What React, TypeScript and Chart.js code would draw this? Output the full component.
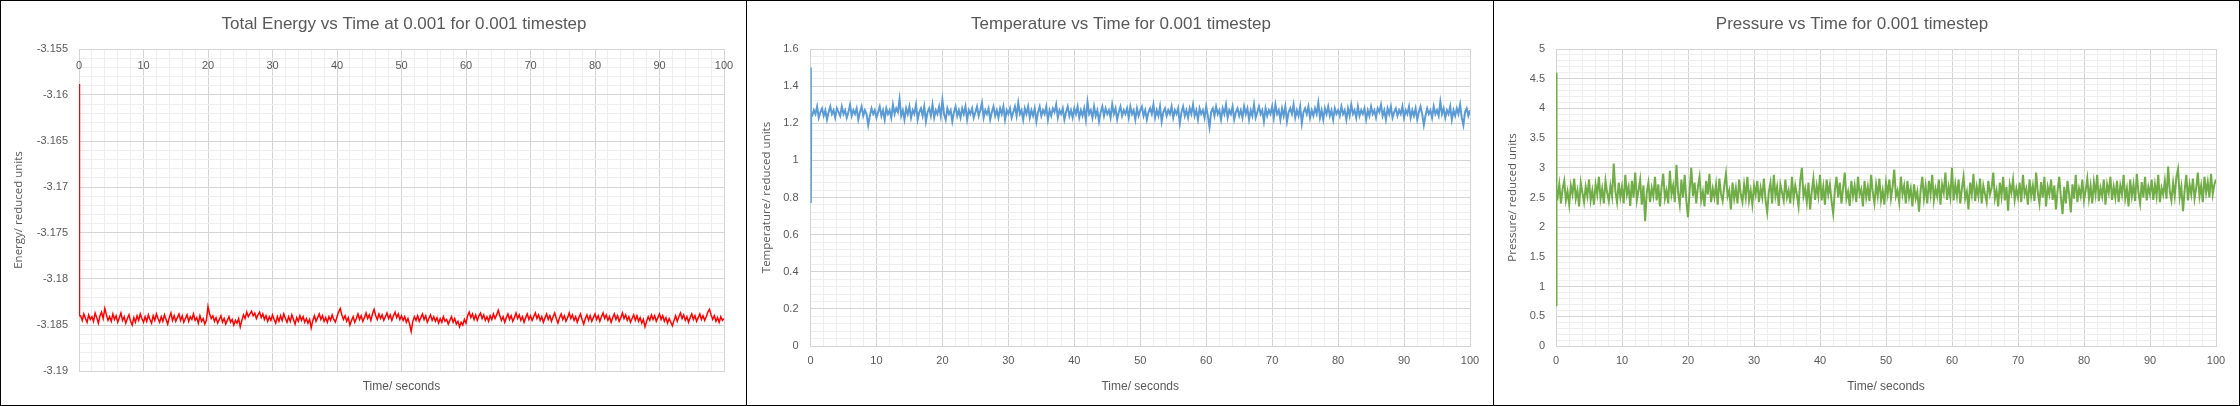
import { useEffect, useRef } from "react";
import { Chart, registerables } from "chart.js";

Chart.register(...registerables);

Chart.defaults.font.family = "'Liberation Sans', Arial, sans-serif";

// Sample times: the start-up transient, then one sample every 0.25 s
const time = [0, 0.05, 0.1, ...Array.from({ length: 400 }, (_, i) => (i + 1) * 0.25)];

const timeTicks = [0, 10, 20, 30, 40, 50, 60, 70, 80, 90, 100];
const timeTickLabels = ["0", "10", "20", "30", "40", "50", "60", "70", "80", "90", "100"];

// one row = 5 s
const energy = [
  -3.1588, -3.176, -3.184,
  -3.184, -3.1845, -3.1838, -3.1843, -3.1847, -3.1839, -3.1844, -3.1841, -3.1846, -3.1837, -3.1842, -3.1848, -3.184, -3.1836, -3.1843, -3.1832, -3.1839, -3.1845, -3.1841, -3.1846,
  -3.1838, -3.1844, -3.184, -3.1847, -3.1842, -3.1837, -3.1845, -3.1841, -3.1848, -3.1843, -3.1839, -3.1846, -3.185, -3.1842, -3.1847, -3.184, -3.1845, -3.1838, -3.1843, -3.1847,
  -3.1841, -3.1846, -3.1839, -3.1844, -3.1848, -3.184, -3.1845, -3.1838, -3.1843, -3.1847, -3.1841, -3.1846, -3.1839, -3.1844, -3.1849, -3.1842, -3.1837, -3.1845, -3.184, -3.1846,
  -3.1842, -3.1838, -3.1845, -3.184, -3.1847, -3.1843, -3.1839, -3.1846, -3.1841, -3.1844, -3.1838, -3.1845, -3.1842, -3.1848, -3.184, -3.1846, -3.1843, -3.1849, -3.1845, -3.183,
  -3.1838, -3.1843, -3.184, -3.1846, -3.1842, -3.1848, -3.1844, -3.184, -3.1847, -3.1843, -3.1849, -3.1845, -3.1841, -3.1847, -3.1844, -3.185, -3.1845, -3.1848, -3.1843, -3.1852,
  -3.1845, -3.1839, -3.1843, -3.1836, -3.1841, -3.1838, -3.1835, -3.184, -3.1837, -3.1843, -3.1839, -3.1836, -3.1842, -3.1838, -3.1844, -3.184, -3.1846, -3.1841, -3.1845, -3.1839,
  -3.1844, -3.1848, -3.1841, -3.1846, -3.184, -3.1845, -3.1838, -3.1843, -3.1847, -3.1841, -3.1846, -3.1839, -3.1844, -3.1849, -3.1842, -3.1846, -3.184, -3.1845, -3.1841, -3.1847,
  -3.1843, -3.1848, -3.1844, -3.1853, -3.1845, -3.184, -3.1846, -3.1842, -3.1838, -3.1844, -3.184, -3.1846, -3.1842, -3.1847, -3.1841, -3.1845, -3.1839, -3.1844, -3.1847, -3.1841,
  -3.1836, -3.1832, -3.1839, -3.1844, -3.184, -3.1846, -3.1842, -3.185, -3.1845, -3.1841, -3.1847, -3.1843, -3.1838, -3.1844, -3.184, -3.1846, -3.1842, -3.1837, -3.1843, -3.1839,
  -3.1845, -3.1838, -3.1833, -3.184, -3.1844, -3.1838, -3.1843, -3.1839, -3.1845, -3.1841, -3.1837, -3.1843, -3.1839, -3.1845, -3.184, -3.1836, -3.1842, -3.1838, -3.1844, -3.184,
  -3.1845, -3.1841, -3.1847, -3.1843, -3.1849, -3.1857, -3.1846, -3.1841, -3.1845, -3.184, -3.1846, -3.1842, -3.1838, -3.1844, -3.184, -3.1847, -3.1843, -3.1839, -3.1845, -3.1841,
  -3.1846, -3.1842, -3.1848, -3.1843, -3.1847, -3.1841, -3.1846, -3.1844, -3.1849, -3.1845, -3.1841, -3.1847, -3.1843, -3.1849, -3.1846, -3.1852, -3.1847, -3.185, -3.1844, -3.1848,
  -3.184, -3.1836, -3.1842, -3.1838, -3.1844, -3.1839, -3.1845, -3.184, -3.1837, -3.1843, -3.1839, -3.1845, -3.1841, -3.1846, -3.184, -3.1844, -3.1838, -3.1843, -3.1839, -3.1834,
  -3.184, -3.1845, -3.1841, -3.1847, -3.1842, -3.1838, -3.1844, -3.184, -3.1846, -3.1842, -3.1837, -3.1843, -3.1839, -3.1845, -3.1841, -3.1847, -3.1842, -3.1838, -3.1844, -3.184,
  -3.1845, -3.1841, -3.1837, -3.1843, -3.1839, -3.1845, -3.1841, -3.1847, -3.1842, -3.1838, -3.1844, -3.184, -3.1846, -3.1841, -3.1837, -3.1843, -3.1848, -3.1842, -3.1838, -3.1844,
  -3.184, -3.1846, -3.1842, -3.1837, -3.1843, -3.1839, -3.1845, -3.1841, -3.1847, -3.1842, -3.1838, -3.1844, -3.1849, -3.1843, -3.1839, -3.1845, -3.184, -3.1846, -3.1842, -3.1838,
  -3.1844, -3.184, -3.1846, -3.1841, -3.1837, -3.1843, -3.1839, -3.1845, -3.1841, -3.1847, -3.1842, -3.1838, -3.1844, -3.184, -3.1846, -3.1842, -3.1837, -3.1843, -3.1839, -3.1845,
  -3.1841, -3.1847, -3.1843, -3.1839, -3.1845, -3.184, -3.1846, -3.1842, -3.1848, -3.1844, -3.1852, -3.1846, -3.1841, -3.1845, -3.1839, -3.1844, -3.184, -3.1846, -3.1842, -3.1838,
  -3.1844, -3.184, -3.1846, -3.1842, -3.1848, -3.1843, -3.1847, -3.1851, -3.1845, -3.184, -3.1846, -3.1841, -3.1837, -3.1843, -3.1839, -3.1845, -3.1841, -3.1847, -3.1842, -3.1838,
  -3.1844, -3.184, -3.1846, -3.1842, -3.1838, -3.1844, -3.184, -3.1845, -3.1841, -3.1836, -3.1833, -3.1839, -3.1844, -3.184, -3.1846, -3.1842, -3.1847, -3.1841, -3.1845, -3.1843,
];

const energyTicks = [-3.155, -3.16, -3.165, -3.17, -3.175, -3.18, -3.185, -3.19];
const energyTickLabels = ["-3.155", "-3.16", "-3.165", "-3.17", "-3.175", "-3.18", "-3.185", "-3.19"];

const temperature = [
  1.5, 0.77, 1.24,
  1.24, 1.27, 1.25, 1.29, 1.23, 1.26, 1.28, 1.24, 1.27, 1.22, 1.26, 1.29, 1.25, 1.27, 1.23, 1.28, 1.26, 1.24, 1.29, 1.25,
  1.27, 1.23, 1.26, 1.3, 1.24, 1.27, 1.25, 1.28, 1.22, 1.26, 1.29, 1.24, 1.27, 1.25, 1.19, 1.24, 1.28, 1.25, 1.27, 1.23,
  1.26, 1.29, 1.24, 1.27, 1.22, 1.28, 1.25, 1.27, 1.23, 1.3, 1.25, 1.28, 1.26, 1.33, 1.24, 1.27, 1.22, 1.28, 1.25, 1.29,
  1.23, 1.27, 1.25, 1.3, 1.22, 1.26, 1.28, 1.24, 1.29, 1.21, 1.26, 1.28, 1.24, 1.3, 1.23, 1.27, 1.25, 1.29, 1.24, 1.325,
  1.25, 1.22, 1.28, 1.25, 1.27, 1.21, 1.26, 1.29, 1.24, 1.27, 1.23, 1.28, 1.25, 1.29, 1.22, 1.27, 1.25, 1.28, 1.23, 1.26,
  1.29, 1.24, 1.27, 1.31, 1.23, 1.27, 1.25, 1.28, 1.22, 1.26, 1.29, 1.24, 1.27, 1.23, 1.28, 1.25, 1.29, 1.22, 1.27, 1.25,
  1.28, 1.23, 1.26, 1.29, 1.24, 1.31, 1.25, 1.27, 1.22, 1.28, 1.25, 1.29, 1.23, 1.27, 1.24, 1.28, 1.21, 1.26, 1.29, 1.24,
  1.27, 1.25, 1.29, 1.22, 1.27, 1.24, 1.28, 1.26, 1.3, 1.23, 1.27, 1.25, 1.28, 1.22, 1.26, 1.29, 1.24, 1.27, 1.23, 1.28,
  1.25, 1.29, 1.23, 1.27, 1.24, 1.28, 1.22, 1.315, 1.25, 1.27, 1.23, 1.29, 1.24, 1.27, 1.21, 1.26, 1.29, 1.24, 1.28, 1.25,
  1.27, 1.23, 1.3, 1.25, 1.28, 1.22, 1.26, 1.29, 1.24, 1.27, 1.25, 1.28, 1.23, 1.29, 1.25, 1.27, 1.22, 1.28, 1.24, 1.27,
  1.29, 1.24, 1.27, 1.22, 1.26, 1.28, 1.25, 1.3, 1.23, 1.27, 1.24, 1.29, 1.21, 1.26, 1.28, 1.24, 1.27, 1.25, 1.29, 1.23,
  1.27, 1.25, 1.28, 1.2, 1.26, 1.29, 1.24, 1.27, 1.23, 1.28, 1.25, 1.3, 1.24, 1.27, 1.22, 1.28, 1.25, 1.27, 1.23, 1.29,
  1.24, 1.18, 1.26, 1.28, 1.24, 1.29, 1.25, 1.27, 1.22, 1.28, 1.25, 1.3, 1.23, 1.27, 1.25, 1.29, 1.22, 1.26, 1.28, 1.24,
  1.27, 1.23, 1.29, 1.25, 1.28, 1.22, 1.27, 1.24, 1.3, 1.23, 1.26, 1.29, 1.25, 1.27, 1.21, 1.28, 1.24, 1.27, 1.25, 1.29,
  1.23, 1.3, 1.25, 1.27, 1.22, 1.28, 1.24, 1.29, 1.21, 1.26, 1.28, 1.25, 1.3, 1.23, 1.27, 1.24, 1.29, 1.2, 1.26, 1.28,
  1.25, 1.29, 1.23, 1.27, 1.24, 1.28, 1.25, 1.31, 1.23, 1.27, 1.22, 1.28, 1.25, 1.29, 1.24, 1.27, 1.22, 1.28, 1.25, 1.27,
  1.24, 1.29, 1.25, 1.27, 1.22, 1.28, 1.24, 1.3, 1.25, 1.27, 1.23, 1.29, 1.24, 1.27, 1.25, 1.28, 1.22, 1.27, 1.24, 1.29,
  1.25, 1.27, 1.23, 1.28, 1.26, 1.3, 1.24, 1.27, 1.22, 1.28, 1.25, 1.29, 1.23, 1.26, 1.28, 1.24, 1.27, 1.25, 1.29, 1.23,
  1.27, 1.25, 1.29, 1.23, 1.27, 1.24, 1.28, 1.22, 1.26, 1.29, 1.25, 1.19, 1.24, 1.28, 1.25, 1.27, 1.23, 1.29, 1.25, 1.27,
  1.24, 1.315, 1.25, 1.28, 1.23, 1.27, 1.25, 1.29, 1.22, 1.27, 1.24, 1.28, 1.25, 1.3, 1.23, 1.19, 1.26, 1.28, 1.24, 1.27,
];

const temperatureTicks = [0, 0.2, 0.4, 0.6, 0.8, 1, 1.2, 1.4, 1.6];
const temperatureTickLabels = ["0", "0.2", "0.4", "0.6", "0.8", "1", "1.2", "1.4", "1.6"];

const pressure = [
  4.6, 0.67, 2.55,
  2.5, 2.72, 2.4, 2.65, 2.78, 2.45, 2.6, 2.38, 2.7, 2.55, 2.82, 2.48, 2.62, 2.35, 2.75, 2.58, 2.42, 2.68, 2.52, 2.8,
  2.45, 2.62, 2.38, 2.72, 2.55, 2.85, 2.48, 2.65, 2.4, 2.78, 2.58, 2.44, 2.7, 2.52, 3.07, 2.6, 2.42, 2.75, 2.5, 2.68,
  2.4, 2.88, 2.55, 2.68, 2.36, 2.78, 2.5, 2.92, 2.45, 2.62, 2.8, 2.38, 2.7, 2.1, 2.58, 2.75, 2.42, 2.66, 2.52, 2.85,
  2.45, 2.72, 2.35, 2.68, 2.9, 2.48, 2.62, 2.4, 2.95, 2.55, 2.7, 2.42, 3.05, 2.58, 2.38, 2.8, 2.5, 2.88, 2.44, 2.17,
  2.62, 3.0, 2.52, 2.75, 2.4, 2.68, 2.85, 2.45, 2.6, 2.35, 2.78, 2.55, 2.9, 2.42, 2.65, 2.5, 2.72, 2.38, 2.82, 2.56,
  2.44, 2.7, 2.9, 2.52, 2.62, 2.3, 2.75, 2.48, 2.66, 2.4, 2.8, 2.55, 2.42, 2.72, 2.5, 2.85, 2.45, 2.62, 2.38, 2.7,
  2.55, 2.78, 2.42, 2.66, 2.5, 2.82, 2.45, 2.25, 2.6, 2.75, 2.4, 2.88, 2.52, 2.68, 2.36, 2.72, 2.58, 2.45, 2.8, 2.5,
  2.62, 2.4, 2.85, 2.48, 2.7, 2.55, 2.35, 2.78, 3.0, 2.52, 2.65, 2.42, 2.75, 2.3, 2.6, 2.82, 2.46, 2.7, 2.52, 2.88,
  2.45, 2.68, 2.38, 2.8, 2.55, 2.72, 2.44, 2.23, 2.62, 2.85, 2.5, 2.75, 2.4, 2.66, 2.92, 2.48, 2.6, 2.36, 2.78, 2.52,
  2.7, 2.42, 2.85, 2.55, 2.64, 2.35, 2.78, 2.5, 2.68, 2.44, 2.88, 2.58, 2.4, 2.72, 2.52, 2.82, 2.45, 2.62, 2.38, 2.75,
  2.55, 2.8, 2.48, 2.68, 2.97, 2.52, 2.62, 2.42, 2.85, 2.55, 2.7, 2.4, 2.78, 2.5, 2.65, 2.35, 2.72, 2.48, 2.6, 2.26,
  2.62, 2.85, 2.48, 2.7, 2.4, 2.78, 2.55, 2.88, 2.45, 2.65, 2.52, 2.8, 2.38, 2.72, 2.58, 2.92, 2.46, 2.68, 2.5, 3.0,
  2.45, 2.72, 2.52, 2.8, 2.4, 2.65, 2.85, 2.48, 2.6, 2.3, 2.75, 2.55, 2.9, 2.44, 2.68, 2.52, 2.82, 2.4, 2.7, 2.56,
  2.42, 2.78, 2.55, 2.66, 2.92, 2.48, 2.62, 2.35, 2.75, 2.52, 2.85, 2.45, 2.68, 2.28, 2.72, 2.58, 2.8, 2.46, 2.65, 2.5,
  2.75, 2.42, 2.88, 2.55, 2.65, 2.38, 2.8, 2.52, 2.7, 2.44, 2.92, 2.58, 2.4, 2.76, 2.5, 2.85, 2.35, 2.68, 2.55, 2.8,
  2.46, 2.7, 2.3, 2.62, 2.85, 2.5, 2.22, 2.68, 2.4, 2.78, 2.55, 2.25, 2.72, 2.48, 2.88, 2.42, 2.65, 2.52, 2.8, 2.45,
  2.62, 2.82, 2.48, 2.7, 2.4, 2.76, 2.55, 2.88, 2.44, 2.66, 2.52, 2.8, 2.38, 2.72, 2.58, 2.85, 2.46, 2.68, 2.5, 2.78,
  2.42, 2.7, 2.55, 2.88, 2.48, 2.65, 2.35, 2.8, 2.52, 2.72, 2.44, 2.9, 2.58, 2.4, 2.76, 2.5, 2.85, 2.45, 2.68, 2.55,
  2.8, 2.46, 2.72, 2.52, 2.88, 2.42, 2.66, 2.55, 2.78, 2.48, 3.02, 2.6, 2.45, 2.75, 2.52, 2.85, 2.98, 2.5, 2.68, 2.27,
  2.62, 2.88, 2.45, 2.72, 2.55, 2.82, 2.48, 2.66, 2.92, 2.52, 2.7, 2.42, 2.85, 2.58, 2.76, 2.5, 2.9, 2.55, 2.72, 2.8,
];

const pressureTicks = [0, 0.5, 1, 1.5, 2, 2.5, 3, 3.5, 4, 4.5, 5];
const pressureTickLabels = ["0", "0.5", "1", "1.5", "2", "2.5", "3", "3.5", "4", "4.5", "5"];

const TEXT = "#595959";
const MAJOR = "#d4d4d4";
const MINOR = "#eeeeee";

// label for a major tick, null for a minor one
const majorLabel = (ticks: number[], labels: string[], v: number) => {
  const i = ticks.findIndex((t) => Math.abs(t - v) < 1e-7);
  return i < 0 ? null : labels[i];
};

// shifts the chart title to a given centre (Excel placed these by hand)
const titleNudge = {
  id: "titleNudge",
  afterLayout(chart: any, _args: any, opts: any) {
    const t = chart.titleBlock;
    if (!t || opts.center == null) return;
    const dx = opts.center - (t.left + t.right) / 2;
    t.left += dx;
    t.right += dx;
  },
};

interface PanelConfig {
  title: string;
  titleCenter: number;
  yTitle: string;
  values: number[];
  color: string;
  lineWidth: number;
  yMin: number;
  yMax: number;
  yStep: number;
  yTicks: number[];
  yLabels: string[];
  yAxisWidth: number;
  yTickPad: number;
  yTitlePad: number;
  xLabelsOnTop: boolean;
  xAxisHeight: number;
  xTickPad: number;
  rightPad: number;
}

const panels: PanelConfig[] = [
  {
    title: "Total Energy vs Time at 0.001 for 0.001 timestep",
    titleCenter: 403,
    yTitle: "Energy/ reduced units",
    values: energy,
    color: "#ff0000",
    lineWidth: 1.5,
    yMin: -3.19,
    yMax: -3.155,
    yStep: 0.001,
    yTicks: energyTicks,
    yLabels: energyTickLabels,
    yAxisWidth: 78,
    yTickPad: 11,
    yTitlePad: 11,
    xLabelsOnTop: true,
    xAxisHeight: 34,
    xTickPad: 10.4,
    rightPad: 22,
  },
  {
    title: "Temperature vs Time for 0.001 timestep",
    titleCenter: 374,
    yTitle: "Temperature/ reduced units",
    values: temperature,
    color: "#5b9bd5",
    lineWidth: 2,
    yMin: 0,
    yMax: 1.6,
    yStep: 0.04,
    yTicks: temperatureTicks,
    yLabels: temperatureTickLabels,
    yAxisWidth: 63.5,
    yTickPad: 12,
    yTitlePad: 12.6,
    xLabelsOnTop: false,
    xAxisHeight: 59,
    xTickPad: 8.4,
    rightPad: 23,
  },
  {
    title: "Pressure vs Time for 0.001 timestep",
    titleCenter: 358,
    yTitle: "Pressure/ reduced units",
    values: pressure,
    color: "#70ad47",
    lineWidth: 2,
    yMin: 0,
    yMax: 5,
    yStep: 0.1,
    yTicks: pressureTicks,
    yLabels: pressureTickLabels,
    yAxisWidth: 62,
    yTickPad: 11,
    yTitlePad: 12.1,
    xLabelsOnTop: false,
    xAxisHeight: 59,
    xTickPad: 8.4,
    rightPad: 23,
  },
];

function Panel({ cfg, width, divider }: { cfg: PanelConfig; width: number; divider: boolean }) {
  const canvasRef = useRef<HTMLCanvasElement>(null);

  useEffect(() => {
    if (!canvasRef.current) return;

    const tickFont = { size: 11 };
    const xLabel = (v: number | string) => majorLabel(timeTicks, timeTickLabels, Number(v)) ?? "";

    const scales: any = {
      x: {
        type: "linear",
        min: 0,
        max: 100,
        position: "bottom",
        ticks: {
          display: !cfg.xLabelsOnTop,
          stepSize: 2,
          autoSkip: false,
          maxRotation: 0,
          minRotation: 0,
          padding: cfg.xTickPad,
          color: TEXT,
          font: tickFont,
          callback: xLabel,
        },
        grid: {
          drawTicks: false,
          color: (ctx: any) =>
            majorLabel(timeTicks, timeTickLabels, ctx.tick?.value) !== null ? MAJOR : MINOR,
        },
        border: { color: MAJOR },
        title: {
          display: true,
          text: "Time/ seconds",
          color: TEXT,
          font: { size: 12 },
          padding: { top: 0, bottom: 10.8 },
        },
        afterFit: (s: any) => {
          s.height = cfg.xAxisHeight;
        },
      },
      y: {
        type: "linear",
        min: cfg.yMin,
        max: cfg.yMax,
        position: "left",
        ticks: {
          stepSize: cfg.yStep,
          autoSkip: false,
          padding: cfg.yTickPad,
          color: TEXT,
          font: tickFont,
          callback: (v: number | string) => majorLabel(cfg.yTicks, cfg.yLabels, Number(v)) ?? "",
        },
        grid: {
          drawTicks: false,
          color: (ctx: any) =>
            majorLabel(cfg.yTicks, cfg.yLabels, ctx.tick?.value) !== null ? MAJOR : MINOR,
        },
        border: { color: MAJOR },
        title: {
          display: true,
          text: cfg.yTitle,
          color: TEXT,
          font: { family: "'Open Sans', sans-serif", size: 11.5 },
          padding: { top: cfg.yTitlePad, bottom: 0 },
        },
        afterFit: (s: any) => {
          s.width = cfg.yAxisWidth;
        },
      },
    };

    // the energy axis crosses at the top, so its time labels sit inside the plot
    if (cfg.xLabelsOnTop) {
      scales.xTop = {
        type: "linear",
        axis: "x",
        min: 0,
        max: 100,
        position: { y: cfg.yMax },
        grid: { display: false, drawTicks: false },
        border: { display: false },
        ticks: {
          stepSize: 10,
          autoSkip: false,
          maxRotation: 0,
          minRotation: 0,
          padding: cfg.xTickPad,
          color: TEXT,
          font: tickFont,
          callback: xLabel,
        },
      };
    }

    const chart = new Chart(canvasRef.current, {
      type: "line",
      data: {
        datasets: [
          {
            data: time.map((t, i) => ({ x: t, y: cfg.values[i] })),
            borderColor: cfg.color,
            borderWidth: cfg.lineWidth,
            pointRadius: 0,
            tension: 0,
            fill: false,
          },
        ],
      },
      options: {
        animation: false,
        responsive: true,
        maintainAspectRatio: false,
        layout: { padding: { top: 0, left: 0, right: cfg.rightPad, bottom: 0 } },
        scales,
        plugins: {
          legend: { display: false },
          tooltip: { enabled: false },
          title: {
            display: true,
            text: cfg.title,
            color: TEXT,
            font: { size: 17, weight: "normal" },
            padding: { top: 12.8, bottom: 14.8 },
          },
          titleNudge: { center: cfg.titleCenter },
        } as any,
      },
      plugins: [titleNudge],
    });

    return () => {
      chart.destroy();
    };
  }, [cfg]);

  return (
    <div
      style={{
        width,
        height: 404,
        borderRight: divider ? "1px solid #000" : "none",
        position: "relative",
        flex: "none",
      }}
    >
      <canvas ref={canvasRef} />
    </div>
  );
}

export default function App() {
  useEffect(() => {
    document.body.style.margin = "0";
  }, []);

  return (
    <div
      style={{
        position: "absolute",
        left: 0,
        top: 0,
        width: 2240,
        height: 406,
        boxSizing: "border-box",
        border: "1px solid #000",
        background: "#fff",
        display: "flex",
      }}
    >
      <Panel cfg={panels[0]} width={745} divider />
      <Panel cfg={panels[1]} width={746} divider />
      <Panel cfg={panels[2]} width={745} divider={false} />
    </div>
  );
}
